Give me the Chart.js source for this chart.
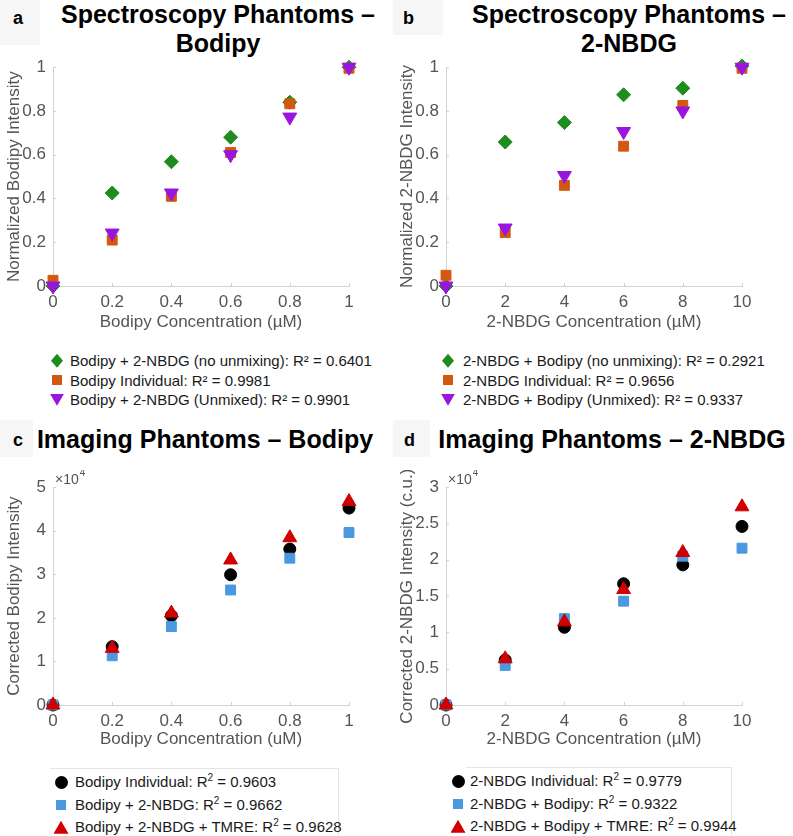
<!DOCTYPE html>
<html>
<head>
<meta charset="utf-8">
<script src="https://cdn.jsdelivr.net/npm/chart.js@4.4.1/dist/chart.umd.min.js"></script>
<style>
  body { margin: 0; background: #fff; font-family: "Liberation Sans", Arial, Helvetica, sans-serif; }
  #page { position: relative; width: 793px; height: 836px; overflow: hidden; background: #fff; }
  .panel { position: absolute; width: 393px; height: 290px; }
  .title { position: absolute; width: 420px; text-align: center; font-weight: bold; font-size: 25px; line-height: 28.5px; color: #000; }
  .letter { position: absolute; font-weight: bold; font-size: 18px; background: #f6f6f6; color: #000; }
  .legend { position: absolute; font-size: 15px; color: #1a1a1a; }
  .legend .row { position: relative; white-space: nowrap; }
  .legend sup { font-size: 10px; line-height: 0; }
  .mk { position: absolute; }
  .boxed { border-top: 1px solid #e4e4e4; border-right: 1px solid #e4e4e4; }
</style>
</head>
<body>
<div id="page">
  <div class="letter" style="left:0;top:0;width:40px;height:45px;"><span style="position:absolute;left:13px;top:8px;">a</span></div>
  <div class="letter" style="left:393px;top:0;width:50px;height:35px;"><span style="position:absolute;left:10px;top:8px;">b</span></div>
  <div class="letter" style="left:0;top:420px;width:33px;height:37px;"><span style="position:absolute;left:13px;top:10px;">c</span></div>
  <div class="letter" style="left:393px;top:420px;width:37px;height:37px;"><span style="position:absolute;left:11px;top:10px;">d</span></div>

  <div class="title" style="left:8px;top:0;">Spectroscopy Phantoms –<br>Bodipy</div>
  <div class="title" style="left:419px;top:0;">Spectroscopy Phantoms –<br>2-NBDG</div>
  <div class="title" style="left:-5px;top:425px;">Imaging Phantoms – Bodipy</div>
  <div class="title" style="left:402px;top:425px;">Imaging Phantoms – 2-NBDG</div>

  <div class="panel" style="left:0;top:50px;"><canvas id="chartA"></canvas></div>
  <div class="panel" style="left:393px;top:50px;"><canvas id="chartB"></canvas></div>
  <div class="panel" style="left:0;top:470px;"><canvas id="chartC"></canvas></div>
  <div class="panel" style="left:393px;top:470px;"><canvas id="chartD"></canvas></div>

  <div class="legend" id="legA" style="left:50px;top:351px;"></div>
  <div class="legend" id="legB" style="left:441px;top:351px;"></div>
  <div class="legend boxed" id="legC" style="left:50px;top:768px;width:288px;height:80px;"></div>
  <div class="legend boxed" id="legD" style="left:466px;top:767px;width:265px;height:80px;"></div>
</div>

<script>
// concentrations
const concBodipy = [0, 0.2, 0.4, 0.6, 0.8, 1];
const concNbdg = [0, 2, 4, 6, 8, 10];

// a: spectroscopy, bodipy (normalized)
const specBodipyNoUnmix = [0, 0.425, 0.568, 0.68, 0.84, 1.0];
const specBodipyIndiv = [0.026, 0.21, 0.41, 0.61, 0.833, 0.995];
const specBodipyUnmixed = [0, 0.242, 0.425, 0.60, 0.772, 1.0];

// b: spectroscopy, 2-NBDG (normalized)
const specNbdgNoUnmix = [0, 0.658, 0.747, 0.874, 0.904, 1.005];
const specNbdgIndiv = [0.049, 0.244, 0.46, 0.639, 0.825, 0.995];
const specNbdgUnmixed = [0, 0.265, 0.505, 0.706, 0.80, 1.0];

// c: imaging, bodipy
const imgBodipyIndiv = [0, 13400, 20500, 29900, 35800, 45200];
const imgBodipyMix = [0, 11300, 18000, 26400, 33700, 39600];
const imgBodipyTmre = [0, 13000, 21100, 33300, 38400, 46700];

// d: imaging, 2-NBDG
const imgNbdgIndiv = [0, 6200, 10700, 16700, 19300, 24600];
const imgNbdgMix = [0, 5450, 11900, 14300, 20500, 21600];
const imgNbdgTmre = [0, 6360, 11450, 15900, 21000, 27300];

// legend text
const namesA = ['Bodipy + 2-NBDG (no unmixing)', 'Bodipy Individual', 'Bodipy + 2-NBDG (Unmixed)'];
const r2A = ['0.6401', '0.9981', '0.9901'];
const namesB = ['2-NBDG + Bodipy (no unmixing)', '2-NBDG Individual', '2-NBDG + Bodipy (Unmixed)'];
const r2B = ['0.2921', '0.9656', '0.9337'];
const namesC = ['Bodipy Individual', 'Bodipy + 2-NBDG', 'Bodipy + 2-NBDG + TMRE'];
const r2C = ['0.9603', '0.9662', '0.9628'];
const namesD = ['2-NBDG Individual', '2-NBDG + Bodipy', '2-NBDG + Bodipy + TMRE'];
const r2D = ['0.9779', '0.9322', '0.9944'];

const GREEN = '#1f8c1f', ORANGE = '#d2580f', PURPLE = '#9a14e0';
const BLACK = '#000000', BLUE = '#4a98e0', RED = '#d00000';
const AXIS_TEXT = '#555555';
const AXIS_LINE = '#d2d2d2';

const markers = {
    diamond: { pointStyle: 'rectRot', pointRadius: 7, pointRotation: 0 },
    square: { pointStyle: 'rect', pointRadius: 7, pointRotation: 0 },
    triDown: { pointStyle: 'triangle', pointRadius: 8, pointRotation: 180 },
    circle: { pointStyle: 'circle', pointRadius: 6, pointRotation: 0 },
    triUp: { pointStyle: 'triangle', pointRadius: 8, pointRotation: 0 }
};

function series(xs, ys, color, marker, order) {
    return Object.assign({
        data: xs.map((x, i) => ({ x: x, y: ys[i] })),
        backgroundColor: color,
        borderColor: color,
        borderWidth: 1,
        clip: false,
        order: order
    }, markers[marker]);
}

// small inward tick marks, matlab style
const innerTicksPlugin = {
    id: 'innerTicks',
    beforeDatasetsDraw(chart) {
        const ctx = chart.ctx;
        const a = chart.chartArea;
        const xs = chart.scales.x, ys = chart.scales.y;
        ctx.save();
        ctx.strokeStyle = AXIS_LINE;
        ctx.lineWidth = 1;
        ctx.beginPath();
        xs.ticks.forEach(t => {
            const px = Math.round(xs.getPixelForValue(t.value)) + 0.5;
            ctx.moveTo(px, a.bottom);
            ctx.lineTo(px, a.bottom - 3);
        });
        ys.ticks.forEach(t => {
            const py = Math.round(ys.getPixelForValue(t.value)) + 0.5;
            ctx.moveTo(a.left, py);
            ctx.lineTo(a.left + 3, py);
        });
        ctx.stroke();
        ctx.restore();
    }
};

const timesTenPlugin = {
    id: 'timesTen',
    afterDraw(chart) {
        const ctx = chart.ctx;
        const a = chart.chartArea;
        ctx.save();
        ctx.fillStyle = AXIS_TEXT;
        ctx.textBaseline = 'middle';
        ctx.font = '14px "Liberation Sans", Arial, sans-serif';
        ctx.fillText('×10', a.left + 2, a.top - 7);
        const w = ctx.measureText('×10').width;
        ctx.font = '10px "Liberation Sans", Arial, sans-serif';
        ctx.fillText('4', a.left + 3 + w, a.top - 14);
        ctx.restore();
    }
};

function makeChart(id, datasets, xMax, xStep, yMax, yStep, yFmt, xTitle, yTitle, padTop, xHeight, titlePadBottom, plugins) {
    const font = { family: '"Liberation Sans", Arial, sans-serif', size: 17 };
    return new Chart(document.getElementById(id), {
        type: 'scatter',
        data: { datasets: datasets },
        options: {
            responsive: true,
            maintainAspectRatio: false,
            animation: false,
            events: [],
            layout: { padding: { top: padTop, right: 44, left: 0, bottom: 0 } },
            plugins: { legend: { display: false }, tooltip: { enabled: false } },
            scales: {
                x: {
                    type: 'linear',
                    min: 0,
                    max: xMax,
                    grid: { drawOnChartArea: false, drawTicks: false },
                    border: { color: AXIS_LINE, width: 1 },
                    ticks: { stepSize: xStep, color: AXIS_TEXT, font: font, padding: 6, maxRotation: 0, callback: plain },
                    title: { display: true, text: xTitle, color: AXIS_TEXT, font: font, padding: { top: 0, bottom: titlePadBottom } },
                    afterFit: s => { s.height = xHeight; }
                },
                y: {
                    type: 'linear',
                    min: 0,
                    max: yMax,
                    grid: { drawOnChartArea: false, drawTicks: false },
                    border: { color: AXIS_LINE, width: 1 },
                    ticks: { stepSize: yStep, color: AXIS_TEXT, font: font, padding: 7, callback: yFmt },
                    title: { display: true, text: yTitle, color: AXIS_TEXT, font: font, padding: { top: 4, bottom: 0 } },
                    afterFit: s => { s.width = 53; }
                }
            }
        },
        plugins: [innerTicksPlugin].concat(plugins || [])
    });
}

function plain(v) { return String(Math.round(v * 10) / 10); }
function perTenK(v) { return String(Math.round(v / 1000) / 10); }

makeChart('chartA', [
    series(concBodipy, specBodipyNoUnmix, GREEN, 'diamond', 2),
    series(concBodipy, specBodipyIndiv, ORANGE, 'square', 1),
    series(concBodipy, specBodipyUnmixed, PURPLE, 'triDown', 0)
], 1, 0.2, 1, 0.2, plain, 'Bodipy Concentration (µM)', 'Normalized Bodipy Intensity', 17, 54, 7);

makeChart('chartB', [
    series(concNbdg, specNbdgNoUnmix, GREEN, 'diamond', 2),
    series(concNbdg, specNbdgIndiv, ORANGE, 'square', 1),
    series(concNbdg, specNbdgUnmixed, PURPLE, 'triDown', 0)
], 10, 2, 1, 0.2, plain, '2-NBDG Concentration (µM)', 'Normalized 2-NBDG Intensity', 17, 54, 7);

makeChart('chartC', [
    series(concBodipy, imgBodipyIndiv, BLACK, 'circle', 2),
    series(concBodipy, imgBodipyMix, BLUE, 'square', 1),
    series(concBodipy, imgBodipyTmre, RED, 'triUp', 0)
], 1, 0.2, 50000, 10000, perTenK, 'Bodipy Concentration (uM)', 'Corrected Bodipy Intensity', 15, 55, 10, [timesTenPlugin]);

makeChart('chartD', [
    series(concNbdg, imgNbdgIndiv, BLACK, 'circle', 2),
    series(concNbdg, imgNbdgMix, BLUE, 'square', 1),
    series(concNbdg, imgNbdgTmre, RED, 'triUp', 0)
], 10, 2, 30000, 5000, perTenK, '2-NBDG Concentration (µM)', 'Corrected 2-NBDG Intensity (c.u.)', 15, 55, 10, [timesTenPlugin]);

// html legends
const shapeCss = {
    diamond: 'width:12px;height:14px;clip-path:polygon(50% 0,100% 50%,50% 100%,0 50%);',
    square: 'width:10px;height:10px;',
    triDown: 'width:14px;height:12px;clip-path:polygon(0 0,100% 0,50% 100%);',
    circle: 'width:13px;height:13px;border-radius:50%;',
    triUp: 'width:15px;height:13px;clip-path:polygon(50% 0,100% 100%,0 100%);'
};

function buildLegend(id, names, r2s, colors, shapes, rowH, textLeft, markCx, supStyle, padTop) {
    const el = document.getElementById(id);
    el.style.paddingTop = padTop + 'px';
    names.forEach((name, i) => {
        const row = document.createElement('div');
        row.className = 'row';
        row.style.height = rowH + 'px';
        row.style.lineHeight = rowH + 'px';
        row.style.paddingLeft = textLeft + 'px';
        const css = shapeCss[shapes[i]];
        const w = parseFloat(css.match(/width:(\d+)/)[1]);
        const h = parseFloat(css.match(/height:(\d+)/)[1]);
        const mk = document.createElement('div');
        mk.className = 'mk';
        mk.style.cssText = css + 'position:absolute;background:' + colors[i] + ';left:' + (markCx - w / 2) + 'px;top:' + (rowH / 2 - h / 2) + 'px;';
        row.appendChild(mk);
        const txt = document.createElement('span');
        txt.innerHTML = supStyle
            ? name + ': R<sup>2</sup> = ' + r2s[i]
            : name + ': R² = ' + r2s[i];
        row.appendChild(txt);
        el.appendChild(row);
    });
}

buildLegend('legA', namesA, r2A, [GREEN, ORANGE, PURPLE], ['diamond', 'square', 'triDown'], 19.5, 20, 7, false, 0);
buildLegend('legB', namesB, r2B, [GREEN, ORANGE, PURPLE], ['diamond', 'square', 'triDown'], 19.5, 22, 7, false, 0);
buildLegend('legC', namesC, r2C, [BLACK, BLUE, RED], ['circle', 'square', 'triUp'], 22.5, 25, 11, true, 2);
buildLegend('legD', namesD, r2D, [BLACK, BLUE, RED], ['circle', 'square', 'triUp'], 22.5, 4, -8, true, 2);
</script>
</body>
</html>
